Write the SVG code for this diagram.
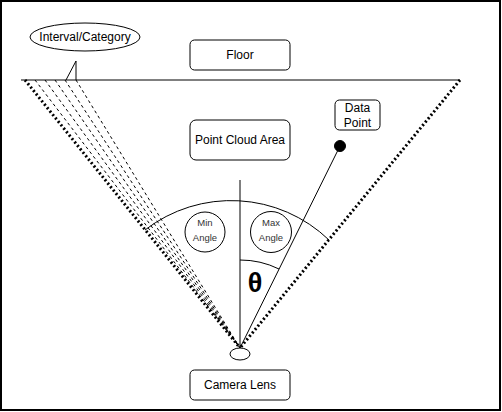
<svg xmlns="http://www.w3.org/2000/svg" width="502" height="412" viewBox="0 0 502 412">
<style>
  .box { fill: #fff; stroke: #000; stroke-width: 1; }
  .lbl { font-family: "Liberation Sans", Arial, sans-serif; font-size: 12px; fill: #000; text-anchor: middle; }
  .small { font-family: "Liberation Sans", Arial, sans-serif; font-size: 9.5px; fill: #333; text-anchor: middle; }
  .ln { fill: none; stroke: #000; stroke-width: 1; }
  .dots { fill: none; stroke: #000; stroke-width: 3; stroke-dasharray: 2 2.4; }
  .dash { fill: none; stroke: #000; stroke-width: 1; stroke-dasharray: 3 3; }
</style>
<rect x="1" y="1" width="499" height="409" fill="#fff" stroke="#000" stroke-width="2"/>

<g id="connectors">
  <line class="ln" x1="21" y1="80" x2="460" y2="80"/>
  <line class="dash" x1="35" y1="80" x2="240" y2="348"/>
  <line class="dash" x1="45" y1="80" x2="240" y2="348"/>
  <line class="dash" x1="55" y1="80" x2="240" y2="348"/>
  <line class="dash" x1="65" y1="80" x2="240" y2="348"/>
  <line class="dash" x1="76" y1="80" x2="240" y2="348"/>
  <line class="dots" x1="25" y1="80" x2="240" y2="348"/>
  <line class="dots" x1="460" y1="80" x2="240" y2="348"/>
  <line class="ln" x1="240" y1="180" x2="240" y2="348"/>
  <line class="ln" x1="340" y1="146" x2="240" y2="348"/>
  <path class="ln" d="M145,230 A141,141 0 0 1 329,240"/>
  <path class="ln" d="M240,260 A88,88 0 0 1 279,269"/>
  <path class="ln" d="M66,80 L76,61 L76,80"/>
</g>

<g id="interval-category">
  <ellipse class="box" cx="85" cy="37" rx="55" ry="14"/>
  <text class="lbl" x="85" y="41">Interval/Category</text>
</g>

<g id="floor">
  <rect class="box" x="190" y="40" width="100" height="30" rx="4.5"/>
  <text class="lbl" x="240" y="59.3">Floor</text>
</g>

<g id="point-cloud-area">
  <rect class="box" x="190" y="120" width="100" height="40" rx="6"/>
  <text class="lbl" x="240" y="144.3">Point Cloud Area</text>
</g>

<g id="data-point">
  <rect class="box" x="335" y="100" width="45" height="30" rx="4.5"/>
  <text class="lbl" x="357.5" y="112">Data</text>
  <text class="lbl" x="357.5" y="126.5">Point</text>
</g>

<g id="data-point-dot">
  <circle cx="340" cy="146" r="5.5" fill="#000" stroke="#000"/>
</g>

<g id="min-angle">
  <circle class="box" cx="205" cy="232" r="20"/>
  <text class="small" x="205" y="226">Min</text>
  <text class="small" x="205" y="241">Angle</text>
</g>

<g id="max-angle">
  <circle class="box" cx="271" cy="232" r="20.5"/>
  <text class="small" x="271" y="226">Max</text>
  <text class="small" x="271" y="241">Angle</text>
</g>

<g id="theta">
  <text x="255" y="291.5" font-family="Liberation Sans, Arial, sans-serif" font-size="27" font-weight="bold" text-anchor="middle" fill="#000">θ</text>
</g>

<g id="lens">
  <ellipse class="box" cx="240" cy="354" rx="10" ry="6"/>
</g>

<g id="camera-lens">
  <rect class="box" x="190" y="370" width="100" height="30" rx="4.5"/>
  <text class="lbl" x="240" y="389.3">Camera Lens</text>
</g>
</svg>
